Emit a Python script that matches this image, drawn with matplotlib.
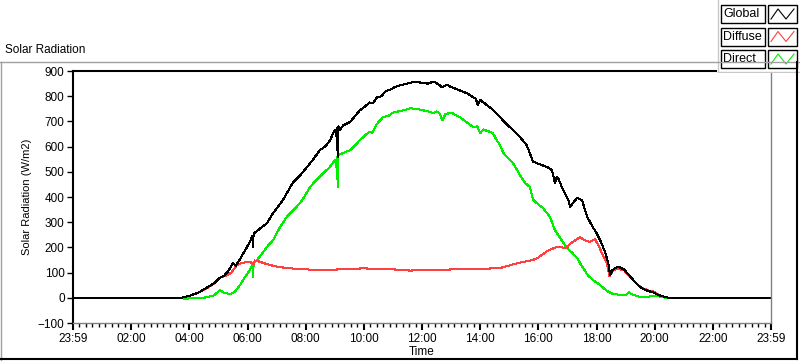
import matplotlib.pyplot as plt
from matplotlib.lines import Line2D
from matplotlib.patches import Rectangle
from matplotlib.ticker import MultipleLocator, FixedLocator

plt.rcParams['font.family'] = ['Liberation Sans', 'DejaVu Sans']

# Global radiation (hours, W/m2)
global_t = [0, 3.72, 4.0, 4.3, 4.6, 4.9, 5.05, 5.2, 5.35, 5.5, 5.6, 5.75, 5.9, 6.05, 6.17, 6.19,
            6.21, 6.4, 6.67, 6.88, 7.05, 7.22, 7.4, 7.57, 7.8, 8.05, 8.25, 8.49, 8.7, 8.84, 9.0,
            9.06, 9.08, 9.1, 9.13, 9.16, 9.3, 9.53, 9.7, 9.87, 10.05, 10.2, 10.32, 10.45, 10.6,
            10.75, 10.9, 11.1, 11.3, 11.5, 11.7, 11.85, 12.0, 12.2, 12.4, 12.55, 12.7, 12.85, 13.0,
            13.2, 13.4, 13.55, 13.7, 13.85, 13.92, 14.0, 14.23, 14.45, 14.68, 14.9, 15.13, 15.37,
            15.6, 15.82, 16.05, 16.3, 16.47, 16.57, 16.63, 16.7, 16.85, 17.03, 17.1, 17.2, 17.33,
            17.5, 17.68, 17.85, 18.0, 18.15, 18.3, 18.4, 18.47, 18.55, 18.7, 18.82, 18.95, 19.1,
            19.26, 19.45, 19.6, 19.8, 19.95, 20.2, 20.4, 20.5, 24]
global_v = [0, 0, 8, 20, 40, 62, 80, 88, 108, 138, 128, 155, 185, 215, 245, 200,
            255, 272, 296, 336, 362, 388, 425, 459, 485, 519, 548, 586, 603, 626, 666,
            640, 672, 558, 680, 665, 685, 698, 722, 745, 760, 775, 772, 795, 800,
            820, 826, 838, 845, 850, 856, 857, 852, 850, 858, 848, 835, 846, 836,
            828, 818, 812, 800, 790, 765, 785, 765, 745, 717, 690, 666, 638,
            606, 540, 530, 519, 507, 456, 478, 470, 428, 388, 360, 378, 396,
            388, 321, 285, 257, 222, 180, 140, 90, 110, 122, 120, 112, 92,
            71, 48, 35, 26, 22, 8, 2, 0, 0]

# Diffuse radiation
diffuse_t = [0, 3.72, 4.0, 4.3, 4.6, 4.9, 5.05, 5.2, 5.3, 5.45, 5.63, 5.8, 5.97, 6.1, 6.2, 6.25,
             6.35, 6.55, 6.77, 7.0, 7.35, 7.7, 8.0, 8.4, 8.73, 9.0, 9.5, 10.0, 10.3, 10.7, 11.0,
             11.3, 11.6, 12.0, 12.4, 12.8, 13.2, 13.6, 14.0, 14.3, 14.68, 15.0, 15.3, 15.6, 15.82,
             16.0, 16.3, 16.63, 16.8, 16.97, 17.1, 17.3, 17.43, 17.55, 17.65, 17.78, 17.95, 18.1,
             18.23, 18.35, 18.45, 18.55, 18.7, 18.82, 18.95, 19.1, 19.26, 19.45, 19.6, 19.8, 19.95,
             20.2, 20.4, 20.5, 24]
diffuse_v = [0, 0, 8, 20, 38, 60, 80, 85, 90, 100, 130, 138, 142, 143, 132, 148,
             146, 138, 130, 124, 118, 115, 113, 110, 110, 112, 114, 117, 115, 116, 113,
             110, 108, 110, 112, 111, 114, 116, 114, 116, 118, 128, 138, 145, 150,
             160, 185, 202, 200, 198, 215, 230, 240, 232, 225, 222, 233, 200,
             165, 140, 85, 105, 118, 112, 110, 88, 70, 48, 38, 28, 25,
             8, 2, 0, 0]

# Direct radiation
direct_t = [3.75, 3.8, 4.4, 4.7, 4.85, 5.05, 5.2, 5.4, 5.55, 5.74, 5.9, 6.05, 6.17, 6.19, 6.21,
            6.4, 6.67, 6.88, 7.12, 7.35, 7.55, 7.8, 7.95, 8.15, 8.35, 8.6, 8.8, 9.01, 9.05, 9.08,
            9.1, 9.12, 9.3, 9.53, 9.7, 9.87, 10.05, 10.2, 10.3, 10.45, 10.66, 10.85, 11.0, 11.2,
            11.4, 11.6, 11.8, 12.0, 12.2, 12.38, 12.5, 12.6, 12.7, 12.8, 13.0, 13.3, 13.5, 13.75,
            13.9, 14.0, 14.1, 14.3, 14.44, 14.55, 14.68, 14.8, 15.0, 15.13, 15.37, 15.55, 15.71,
            15.82, 16.0, 16.16, 16.4, 16.57, 16.75, 16.98, 17.15, 17.33, 17.5, 17.7, 17.9, 18.12,
            18.35, 18.57, 18.8, 19.0, 19.1, 19.2, 19.5, 19.8, 20.1, 20.3, 20.4]
direct_v = [0, -3, -2, 5, 10, 30, 20, 15, 22, 50, 80, 105, 130, 83, 135,
            160, 202, 229, 281, 321, 345, 375, 400, 440, 465, 494, 515, 547, 520, 560,
            440, 566, 575, 586, 605, 626, 645, 660, 655, 690, 717, 722, 735, 740,
            745, 752, 750, 745, 740, 733, 740, 732, 705, 728, 735, 717, 700, 678,
            680, 653, 668, 660, 653, 630, 606, 574, 550, 534, 487, 455, 440,
            390, 370, 356, 321, 269, 237, 198, 180, 158, 125, 90, 68, 51,
            28, 15, 12, 10, 22, 15, 3, 5, 7, 2, 0]

x_ticks = [0, 2, 4, 6, 8, 10, 12, 14, 16, 18, 20, 22, 24]
x_labels = ['23:59', '02:00', '04:00', '06:00', '08:00', '10:00', '12:00',
            '14:00', '16:00', '18:00', '20:00', '22:00', '23:59']
series_names = ['Global', 'Diffuse', 'Direct']
series_colors = ['black', '#ff4040', '#00ee00']

fig = plt.figure(figsize=(8, 3.61), dpi=100)
W, H = 800, 361

ax = fig.add_axes([73 / W, 1 - 323 / H, 698 / W, 252 / H])
ax.plot(direct_t, direct_v, color=series_colors[2], lw=0.75, antialiased=False)
ax.plot(diffuse_t, diffuse_v, color=series_colors[1], lw=0.75, antialiased=False)
ax.plot(global_t, global_v, color=series_colors[0], lw=0.75, antialiased=False)

ax.set_xlim(0, 24)
ax.set_ylim(-100, 900)
ax.xaxis.set_major_locator(FixedLocator(x_ticks))
ax.set_xticklabels(x_labels)
ax.xaxis.set_minor_locator(MultipleLocator(2 / 9))
ax.yaxis.set_major_locator(MultipleLocator(100))
ax.tick_params(axis='x', which='major', length=5, width=1.5, labelsize=8.5, pad=2)
ax.tick_params(axis='x', which='minor', length=3, width=1)
ax.tick_params(axis='y', length=4, width=1, labelsize=8.5, pad=2)
for side in ['left', 'top']:
    ax.spines[side].set_color('black')
    ax.spines[side].set_linewidth(1.5)
for side in ['right', 'bottom']:
    ax.spines[side].set_color('#808080')
    ax.spines[side].set_linewidth(1)
ax.set_ylabel('Solar Radiation (W/m2)', fontsize=8, labelpad=4)
ax.set_xlabel('Time', fontsize=8.5, labelpad=1)

# panel frame
tf = fig.transFigure
fig.add_artist(Line2D([0, 1], [1 - 62 / H] * 2, color='#a0a0a0', lw=1, transform=tf))
fig.add_artist(Line2D([1 / W] * 2, [1 - 62 / H, 0], color='#a0a0a0', lw=1, transform=tf))
fig.add_artist(Line2D([0, 797 / W], [1 - 359 / H] * 2, color='black', lw=1.5, transform=tf))
fig.add_artist(Line2D([797 / W] * 2, [1 - 62 / H, 1 - 359 / H], color='black', lw=1.5, transform=tf))
fig.text(5 / W, 1 - 50 / H, 'Solar Radiation', fontsize=8.5, va='center', ha='left')

# legend box
lg = fig.add_axes([717 / W, 1 - 73 / H, 83 / W, 73 / H])
lg.set_xlim(0, 83)
lg.set_ylim(73, 0)
lg.axis('off')
lg.add_patch(Rectangle((0, 0), 83, 72, facecolor='white', edgecolor='none'))
lg.plot([0.5, 0.5], [0, 72], color='#c8c8c8', lw=1)
lg.plot([0.5, 83], [72, 72], color='#c8c8c8', lw=1)
for i, (name, col) in enumerate(zip(series_names, series_colors)):
    y0 = 5 + i * 22.5
    lg.add_patch(Rectangle((4, y0), 44, 18, facecolor='white', edgecolor='black', lw=1))
    lg.text(6, y0 + 9, name, fontsize=9, va='center', ha='left')
    lg.add_patch(Rectangle((51, y0), 29, 18, facecolor='white', edgecolor='black', lw=1))
    lg.plot([54, 61, 69, 77], [y0 + 14, y0 + 4, y0 + 14, y0 + 4], color=col, lw=0.8)

fig.savefig('out.png', dpi=100)
